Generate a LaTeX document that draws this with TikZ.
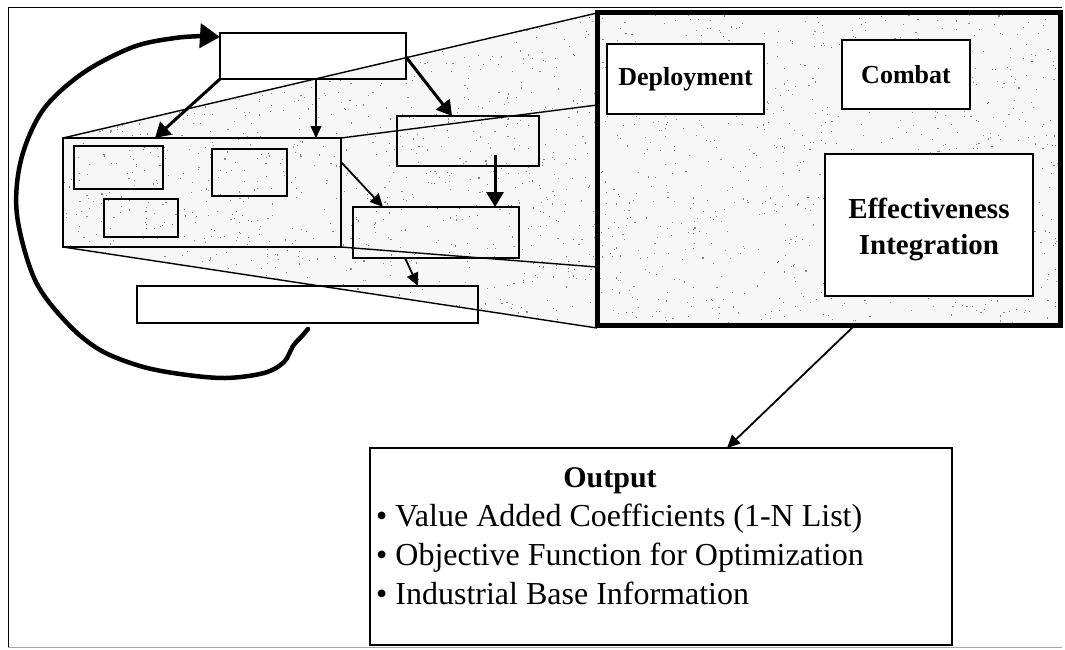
\documentclass[tikz,border=0pt]{standalone}
\usepackage{fontspec}
\setmainfont{Liberation Serif}
\usetikzlibrary{arrows.meta}
\begin{document}
\begin{tikzpicture}[x=1pt,y=-1pt,
  box/.style={draw=black, line width=1.6pt, inner sep=0pt, outer sep=0pt, anchor=north west},
  wbox/.style={box, fill=white},
  edge/.style={line width=1.4pt},
  arr/.style={-{Triangle[length=13pt,width=12pt]}, line width=1.8pt},
  thinarr/.style={-{Triangle[length=12pt,width=11pt]}, line width=1.2pt},
  thickarr/.style={-{Triangle[length=15pt,width=17pt]}, line width=3pt},
  lbl/.style={font=\bfseries\fontsize{26}{30}\selectfont, align=center}
]
\useasboundingbox (0,0) rectangle (1065,649);
\draw[line width=1pt] (8,7) -- (1062,7);
\draw[line width=1pt] (8,7) -- (8,647);
\draw[line width=0.8pt, black!35] (8,647) -- (1062,647);

% funnel (zoom region)
\coordinate (f1) at (63,137);
\coordinate (f2) at (597,13);
\coordinate (f3) at (597,328);
\coordinate (f4) at (63,247);
\coordinate (g2) at (597,105);
\coordinate (g3) at (597,267);
\begin{scope}
  \clip (f1) -- (f2) -- (597,12) -- (1061,12) -- (1061,325) -- (597,325) -- (f3) -- (f4) -- cycle;
  \fill[black!3] (0,0) rectangle (1065,649);
  \pgfmathsetseed{4242}
  \foreach \i in {1,...,2200} {
    \pgfmathsetmacro{\xx}{63+1000*rnd}
    \pgfmathsetmacro{\yy}{10+320*rnd}
    \fill[black!45] (\xx,\yy) rectangle ++(1.1,1.1);
  }
\end{scope}

% big zoomed box
\node[box, line width=5pt, minimum width=463pt, minimum height=313pt] (big) at (597,12) {};

% left-side boxes
\node[box, minimum width=278pt, minimum height=109pt] (LB) at (63,138) {};
\node[box, minimum width=89pt, minimum height=43pt] (A) at (74,146) {};
\node[box, minimum width=75pt, minimum height=47pt] (B) at (212,149) {};
\node[box, minimum width=74pt, minimum height=38pt] (C) at (104,199) {};
\node[box, minimum width=186pt, minimum height=46pt] (top) at (220,33) {};
\node[box, minimum width=142pt, minimum height=50pt] (box2) at (397,116) {};
\node[box, minimum width=166pt, minimum height=51pt] (box3) at (353,207) {};
\node[box, minimum width=341pt, minimum height=37pt] (bot) at (137,286) {};

% funnel edges
\draw[edge] (LB.north west) -- (f2);
\draw[edge] (LB.south west) -- (f3);
\draw[edge] (LB.north east) -- (g2);
\draw[edge] (LB.south east) -- (g3);

% boxes inside the big box
\node[wbox, minimum width=157pt, minimum height=70pt] (dep) at (607,44) {};
\node[lbl] (depT) at (dep.center) {Deployment};
\node[wbox, minimum width=128pt, minimum height=69pt] (com) at (842,40) {};
\node[lbl] (comT) at (com.center) {Combat};
\node[wbox, minimum width=208pt, minimum height=142pt] (eff) at (825,154) {};
\node[lbl, font=\bfseries\fontsize{29}{36}\selectfont] (effT) at ([yshift=-4pt]eff.center) {Effectiveness\\Integration};

% output box
\node[wbox, minimum width=582pt, minimum height=197pt] (out) at (370,448) {};
\node[anchor=north, font=\bfseries\fontsize{30}{32}\selectfont, inner sep=0pt] (outT) at (610,467) {Output};
\node[anchor=north west, align=left, inner sep=0pt, font=\fontsize{32}{39}\selectfont] (outL) at (376,504)
  {\textbullet\ Value Added Coefficients (1-N List)\\
   \textbullet\ Objective Function for Optimization\\
   \textbullet\ Industrial Base Information};

% arrows
\draw[thickarr] (top.south west) -- ([xshift=92pt]LB.north west);
\draw[thinarr] ([xshift=96pt]top.south west) -- ([xshift=253pt]LB.north west);
\draw[thickarr] ([yshift=-24pt]top.north east) -- ([xshift=55pt]box2.north west);
\draw[thickarr] ([xshift=98pt,yshift=11pt]box2.south west) -- ([xshift=142pt]box3.north west);
\draw[arr] ([yshift=-24pt]LB.north east) -- ([xshift=30pt]box3.north west);
\draw[arr] ([xshift=52pt]box3.south west) -- ([xshift=281pt]bot.north west);
\draw[arr] ([xshift=258pt]big.south west) -- ([xshift=357pt]out.north west);

% big feedback curve
\coordinate (cs) at (308,329);
\draw[line width=4.5pt, line cap=round, -{Triangle[length=20pt,width=24pt]}]
  plot[smooth, tension=0.55] coordinates {(cs) (302,336) (293,346) (284,362) (264,373) (225,378) (180,374) (140,366) (100,350) (67,323) (35,280) (17,215) (21,160) (43,110) (83,73) (133,47) (175,38) (204,36)}
  -- ([yshift=-4pt]top.north west);
\end{tikzpicture}
\end{document}
